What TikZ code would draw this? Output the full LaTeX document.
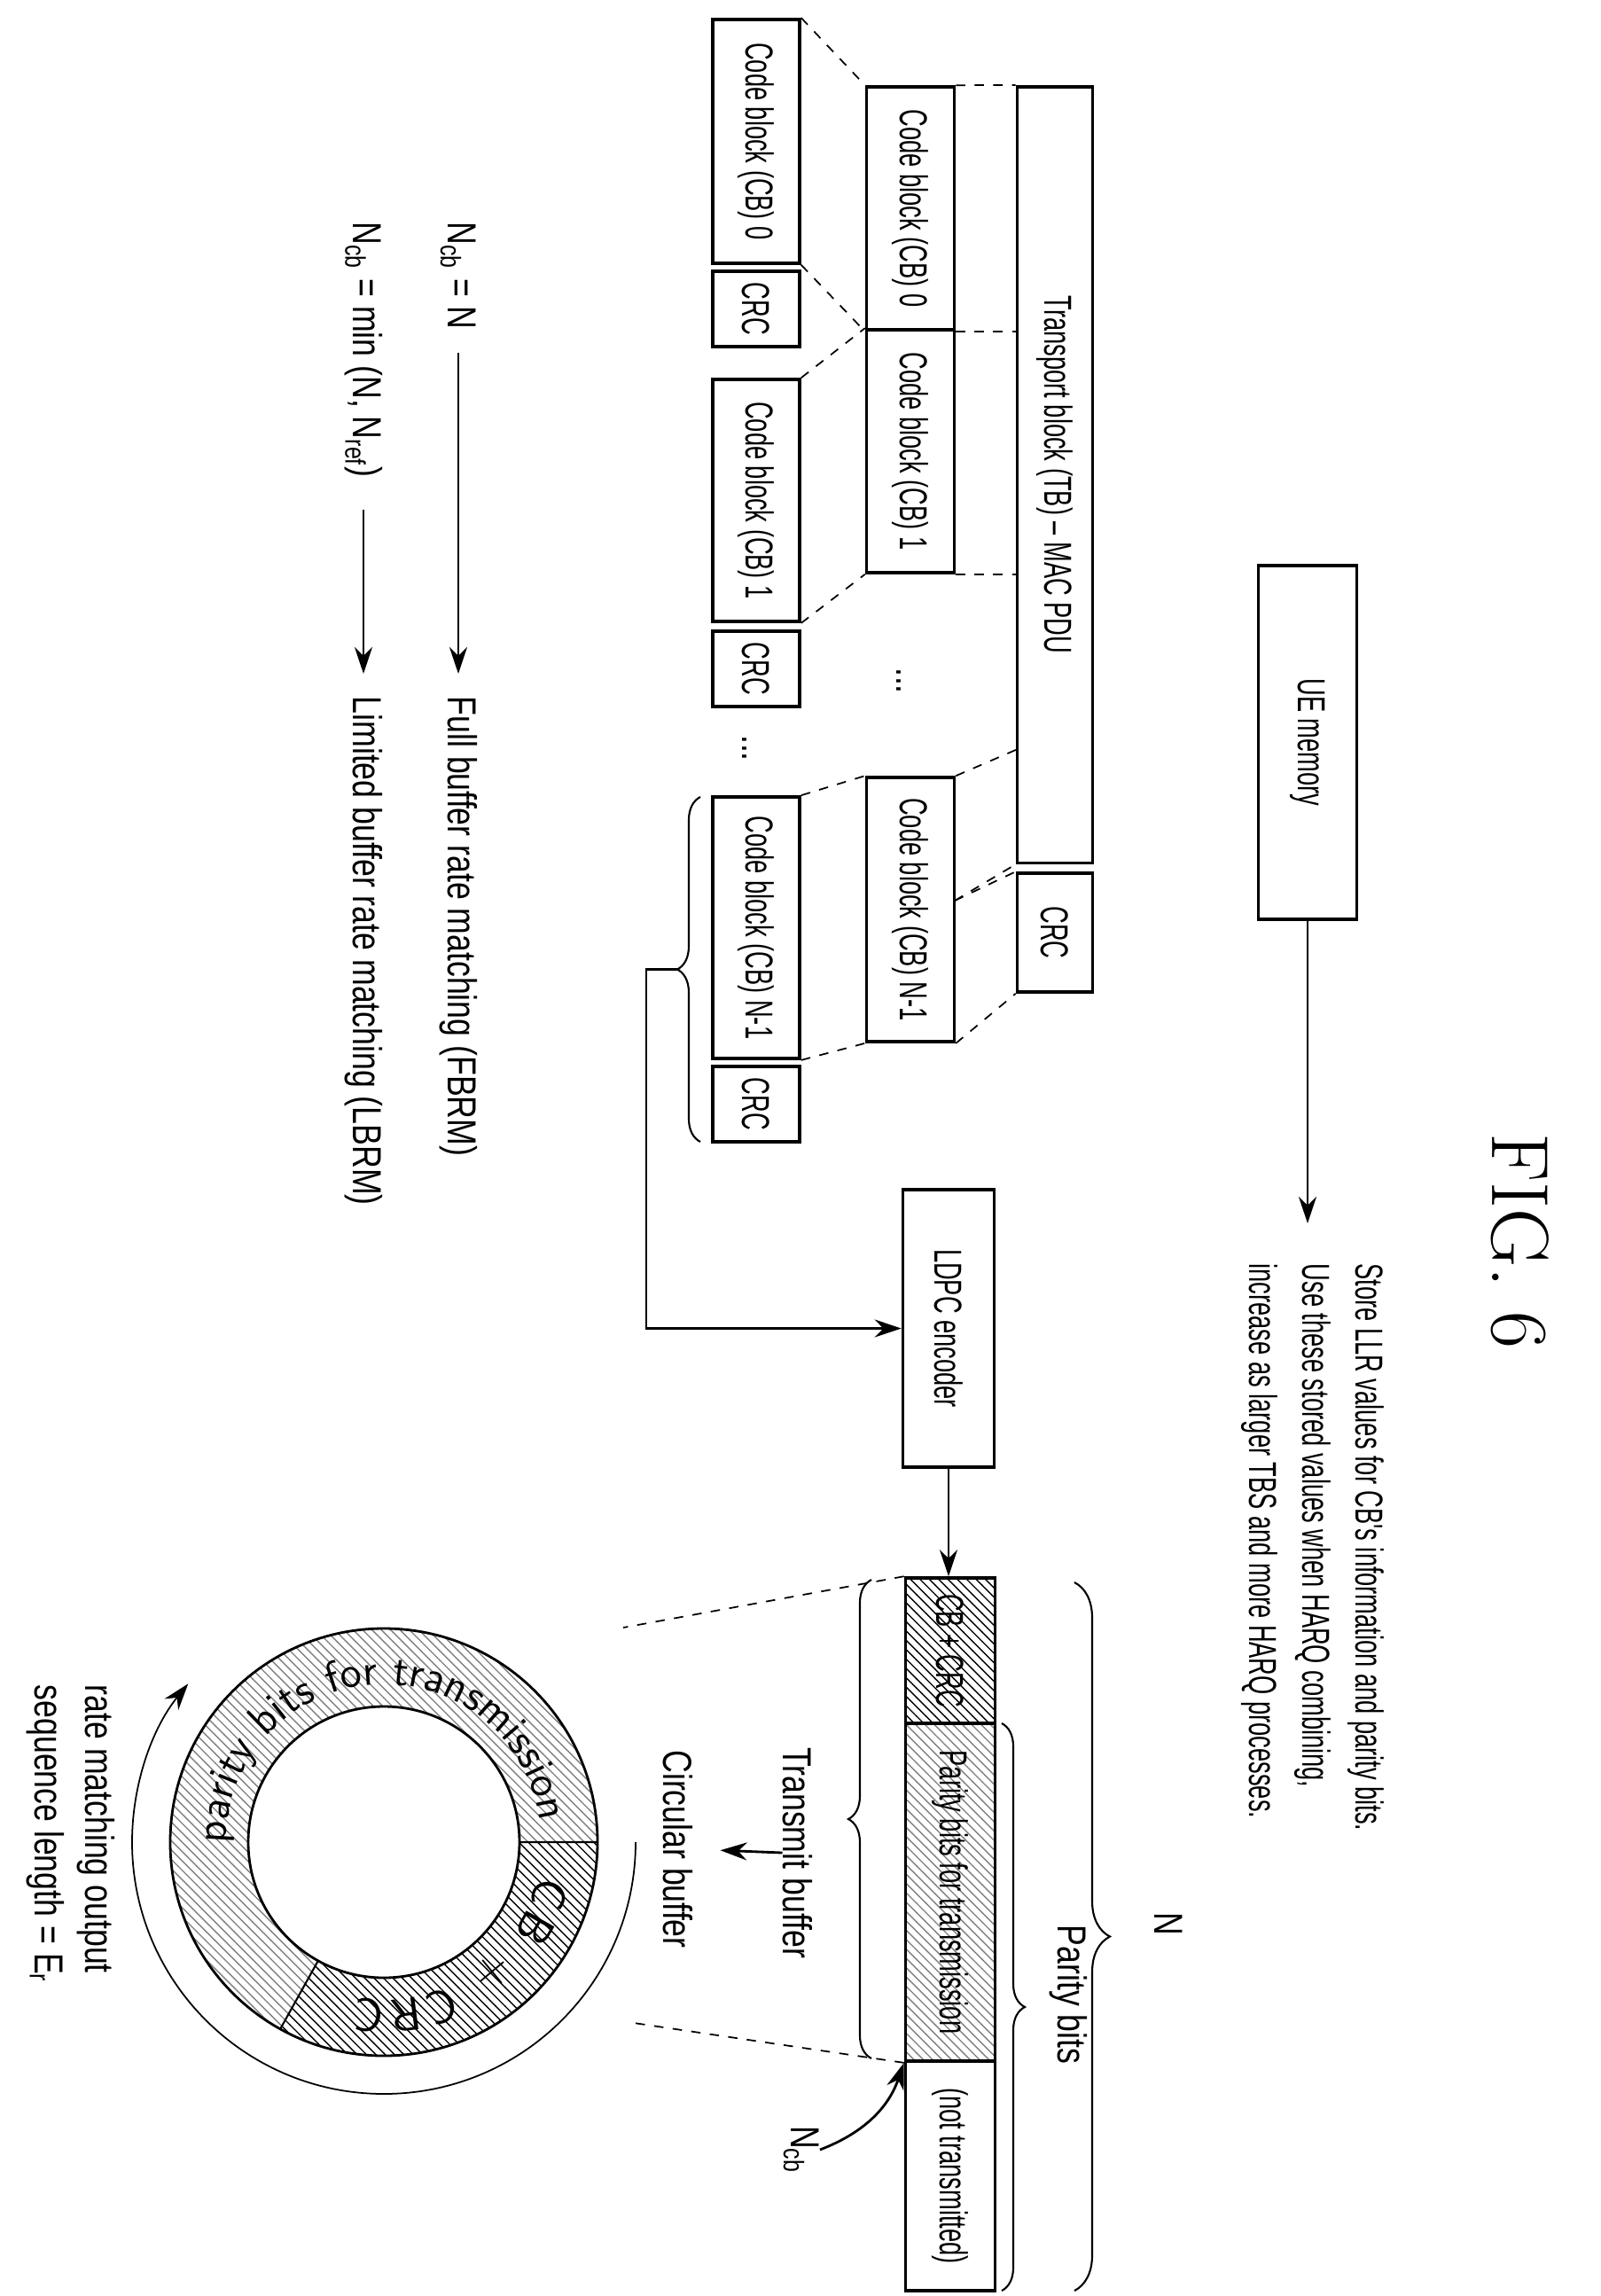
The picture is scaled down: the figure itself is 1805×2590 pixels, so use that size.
\documentclass[tikz,border=0pt]{standalone}
\usepackage{fontspec}
\newfontfamily\boxfont[FakeStretch=0.62]{Liberation Sans}
\newfontfamily\widefont[FakeStretch=0.78]{Liberation Sans}
\usetikzlibrary{arrows.meta,patterns,decorations.pathreplacing,decorations.text}
\tikzset{
  box/.style={draw, line width=1pt, rotate=-90, inner sep=0pt, minimum height=9.8mm,
    font=\boxfont\fontsize{12.5}{15}\selectfont},
  lbl/.style={rotate=-90, inner sep=0pt, font=\widefont\fontsize{13}{16}\selectfont},
  map/.style={dashed, line width=0.5pt},
  arr/.style={-{Stealth[length=3mm,width=2mm]}, line width=0.8pt},
  brc/.style={decorate, decoration={brace, amplitude=2.6mm}, line width=0.6pt},
}
\begin{document}
\begin{tikzpicture}[x=0.01cm, y=-0.01cm]
\useasboundingbox (0,0) rectangle (1805,2590);

% code blocks with CRC
\node[box, minimum width=27.5mm] (lcb0) at (853,159.5) {Code block (CB) 0};
\node[box, minimum width=8.5mm] (lcrc0) at (853,348.5) {CRC};
\node[box, minimum width=27.3mm] (lcb1) at (853,564.5) {Code block (CB) 1};
\node[box, minimum width=8.5mm] (lcrc1) at (853,754.5) {CRC};
\node[lbl] (ldots) at (840,844) {...};
\node[box, minimum width=29.5mm] (lcbn) at (853,1046.5) {Code block (CB) N-1};
\node[box, minimum width=8.5mm] (lcrcn) at (853,1245.5) {CRC};

% segmented transport block
\node[box, minimum width=27.4mm, minimum height=9.9mm] (mcb0) at (1027,235) {Code block (CB) 0};
\node[box, minimum width=27.4mm, minimum height=9.9mm] (mcb1) at (1027,509) {Code block (CB) 1};
\node[lbl] (mdots) at (1014,768) {...};
\node[box, minimum width=29.8mm, minimum height=9.9mm] (mcbn) at (1027,1026) {Code block (CB) N-1};

\node[box, minimum width=87.5mm, minimum height=8.5mm] (tb) at (1190,535.5) {Transport block (TB) – MAC PDU};
\node[box, minimum width=13.4mm, minimum height=8.5mm] (tcrc) at (1190,1052) {CRC};

\node[box, minimum width=39.9mm, minimum height=11.1mm] (uemem) at (1475,837.5) {UE memory};
\node[box, minimum width=31.3mm, minimum height=10.3mm] (ldpc) at (1070,1498.5) {LDPC encoder};

% buffer
\node[box, minimum width=16.4mm, minimum height=10.1mm, pattern=north west lines] (buf1) at (1072,1862) {CB + CRC};
\node[box, minimum width=38.1mm, minimum height=10.1mm, pattern=north west lines, pattern color=gray] (buf2) at (1072,2134.5) {Parity bits for transmission};
\node[box, minimum width=25.9mm, minimum height=10.1mm] (buf3) at (1072,2454.5) {(not transmitted)};

% mapping lines
\draw[map] (lcb0.north west) -- (mcb0.south west);
\draw[map] (lcb0.north east) -- (mcb0.south east);
\draw[map] (lcb1.north west) -- (mcb1.south west);
\draw[map] (lcb1.north east) -- (mcb1.south east);
\draw[map] (lcbn.north west) -- (mcbn.south west);
\draw[map] (lcbn.north east) -- (mcbn.south east);
\draw[map] (mcb0.north west) -- (tb.south west);
\draw[map] (mcb0.north east) -- (tb.south west |- mcb0.north east);
\draw[map] (mcb1.north east) -- (tb.south west |- mcb1.north east);
\coordinate (tbcut) at (1148,845);
\coordinate (mcut) at (1077,1016);
\draw[map] (mcbn.north west) -- (tbcut);
\draw[map] (mcut) -- (tb.south east);
\draw[map] (mcut) -- (tcrc.south west);
\draw[map] (mcbn.north east) -- (tcrc.south east);

% to the encoder
\draw[brc] (790,1288) -- (790,899);
\coordinate (brtip) at (764,1093.5);
\draw[arr] (brtip) -- ++(-35,0) |- (ldpc.south);
\draw[arr] (ldpc.east) -- (ldpc.east |- buf1.west);

% UE memory note
\node[lbl, anchor=north west, align=left, font=\boxfont\fontsize{12.5}{17}\selectfont] (store) at (1562,1425)
  {Store LLR values for CB's information and parity bits.\\
   Use these stored values when HARQ combining,\\
   increase as larger TBS and more HARQ processes.};
\draw[arr, shorten >=4.5mm] (uemem.east) -- (uemem.east |- store.west);

\node[rotate=-90, font=\fontsize{26}{30}\selectfont] (fig) at (1715,1400) {FIG. 6};

% braces of the buffer
\draw[brc] (983,2322) -- (983,1782);
\node[lbl] (tbuf) at (900,2090) {Transmit buffer};
\draw[brc] (1130,1944) -- (1130,2584);
\node[lbl] (pbits) at (1205,2250) {Parity bits};
\draw[brc, decoration={amplitude=4mm}] (1212,1785) -- (1212,2584);
\node[lbl] (nlen) at (1318,2170) {N};
\node[lbl] (ncb) at (904,2425) {N\textsubscript{cb}};
\draw[arr] (ncb.north) to[bend right=25] (buf2.south east);

\node[lbl] (cbuf) at (765,2086) {Circular buffer};
\draw[arr, shorten >=3mm] (tbuf.south) -- (cbuf.north);

\coordinate (ctop) at (703,1836);
\coordinate (cbot) at (715,2282);
\draw[map] (buf1.south west) -- (ctop);
\draw[map] (buf2.south east) -- (cbot);

% circular buffer ring
\begin{scope}[shift={(433,2078)}, y=0.01cm]
  \fill[pattern=north west lines, pattern color=gray] (0:153) -- (0:241) arc[start angle=0, end angle=241, radius=241] -- (241:153) arc[start angle=241, end angle=0, radius=153] -- cycle;
  \fill[pattern=north west lines] (0:153) -- (0:241) arc[start angle=0, end angle=-119, radius=241] -- (241:153) arc[start angle=-119, end angle=0, radius=153] -- cycle;
  \draw[line width=0.8pt] (0,0) circle[radius=241] (0,0) circle[radius=153];
  \draw[line width=0.6pt] (0:153) -- (0:241) (241:153) -- (241:241);
  \path[decorate, decoration={text along path, text align=center,
    text={|\sffamily\fontsize{14}{14}\selectfont|parity bits for transmission}}]
    (185:178) arc[start angle=185, end angle=3, radius=178];
  \path[decorate, decoration={text along path, text align=fit to path,
    text={|\sffamily\fontsize{15}{15}\selectfont|CB + CRC}}]
    (-12:178) arc[start angle=-12, end angle=-100, radius=178];
  \draw[arr, line width=0.5pt] (0:284) arc[start angle=0, end angle=-219, radius=284];
\end{scope}
\node[lbl, anchor=north west, align=left] (rmout) at (130,1900)
  {rate matching output\\ sequence length = E\textsubscript{r}};

% rate matching modes
\node[lbl, anchor=west] (ncbn) at (517,250) {N\textsubscript{cb} = N};
\node[lbl, anchor=west] (fbrm) at (517,785) {Full buffer rate matching (FBRM)};
\draw[arr, shorten <=2.6mm, shorten >=2.5mm] (ncbn.east) -- (fbrm.west);
\node[lbl, anchor=west] (ncbl) at (410,250) {N\textsubscript{cb} = min (N, N\textsubscript{ref})};
\node[lbl, anchor=west] (lbrm) at (410,785) {Limited buffer rate matching (LBRM)};
\draw[arr, shorten <=3.6mm, shorten >=2.5mm] (ncbl.east) -- (lbrm.west);
\end{tikzpicture}
\end{document}
